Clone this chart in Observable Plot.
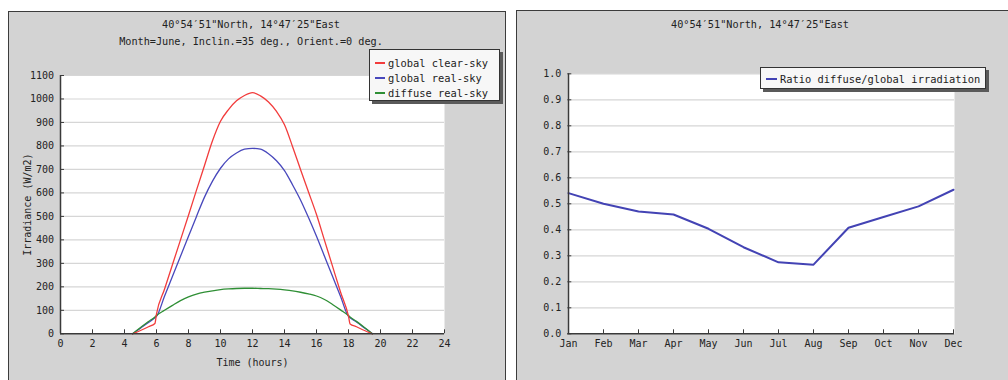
<!DOCTYPE html>
<html><head><meta charset="utf-8">
<script src="https://cdn.jsdelivr.net/npm/d3@7"></script>
<script src="https://cdn.jsdelivr.net/npm/@observablehq/plot@0.6"></script>
<style>
html,body{margin:0;padding:0;background:#fff;overflow:hidden;}
#page{position:relative;width:1008px;height:380px;overflow:hidden;font-family:"DejaVu Sans Mono",monospace;color:#222;}
.panel{position:absolute;background:#d3d3d3;border:1.5px solid #3c3c3c;box-sizing:border-box;}
.title{position:absolute;font-size:10.2px;white-space:nowrap;transform:translate(-50%,-50%);line-height:1;}
.chart{position:absolute;}
.legend{position:absolute;background:#f7f7f7;border:1px solid #333;box-shadow:3px 3px 0 #5a5a5a;box-sizing:border-box;font-size:10.4px;}
.row{position:absolute;left:0;height:14px;line-height:14px;white-space:nowrap;}
.sw{position:absolute;top:6px;height:2px;width:10px;}
.lt{position:absolute;}
</style></head>
<body><div id="page">
<div class="panel" style="left:8px;top:10.5px;width:498px;height:390px;"></div>
<div class="panel" style="left:515.5px;top:9.5px;width:510px;height:390px;"></div>
<div id="left" class="chart" style="left:10px;top:12px;"></div>
<div id="right" class="chart" style="left:518px;top:12px;"></div>
<div class="title" style="left:251px;top:25px;">40°54′51"North, 14°47′25"East</div>
<div class="title" style="left:251px;top:41.5px;">Month=June, Inclin.=35 deg., Orient.=0 deg.</div>
<div class="title" style="left:760px;top:24.5px;">40°54′51"North, 14°47′25"East</div>
<div id="legL" class="legend" style="left:369px;top:49px;width:131px;height:52px;"></div>
<div id="legR" class="legend" style="left:760px;top:66.5px;width:226px;height:22px;"></div>
</div>
<script>
// ---- left chart data (June daily profile) ----
const hours = [4.5, 5.0, 5.5, 5.9, 6.0, 6.5, 7.0, 7.5, 8.0, 8.5, 9.0, 9.5, 10.0, 10.5, 11.0, 11.5, 12.0,
               12.5, 13.0, 13.5, 14.0, 14.5, 15.0, 15.5, 16.0, 16.5, 17.0, 17.5, 18.0, 18.1, 18.5, 19.0, 19.5];
const globalClearSky = [0, 14, 30, 44, 85, 190, 295, 400, 505, 612, 717, 822, 905, 955, 992, 1015, 1027,
                        1013, 987, 947, 890, 798, 700, 604, 508, 398, 288, 178, 75, 42, 30, 14, 0];
const globalRealSky = [0, 24, 48, 68, 74, 160, 245, 330, 415, 500, 582, 650, 705, 745, 770, 786, 790,
                       786, 767, 737, 695, 635, 570, 495, 415, 330, 245, 160, 74, 68, 50, 25, 0];
const diffuseRealSky = [0, 27, 52, 72, 78, 100, 121, 141, 157, 169, 177, 183, 188, 191, 193, 194, 194,
                        193, 192, 190, 187, 183, 177, 170, 161, 146, 125, 102, 78, 72, 53, 27, 0];
const seriesNames = ["global clear-sky", "global real-sky", "diffuse real-sky"];
const seriesColors = ["#f23c3c", "#4848bc", "#2f8f35"];
const hourTicks = [0, 2, 4, 6, 8, 10, 12, 14, 16, 18, 20, 22, 24];
const irrTicks = [0, 100, 200, 300, 400, 500, 600, 700, 800, 900, 1000, 1100];

// ---- right chart data (monthly ratio) ----
const months = ["Jan","Feb","Mar","Apr","May","Jun","Jul","Aug","Sep","Oct","Nov","Dec"];
const ratio = [0.541, 0.500, 0.470, 0.459, 0.404, 0.333, 0.275, 0.266, 0.408, 0.449, 0.490, 0.554];
const ratioName = "Ratio diffuse/global irradiation";
const ratioColor = "#4343b4";
const ratioTicks = [0, 0.1, 0.2, 0.3, 0.4, 0.5, 0.6, 0.7, 0.8, 0.9, 1.0];

const font = {background: "transparent", fontFamily: "DejaVu Sans Mono, monospace", fontSize: "10px", color: "#222"};
const axisColor = "#3a3a3a";
const gridColor = "#d6d6d6";

const series = [globalClearSky, globalRealSky, diffuseRealSky];
const drawOrder = [1, 2, 0];
const lineMarks = drawOrder.map(k => Plot.line(hours.map((t, i) => ({t, v: series[k][i]})),
  {x: "t", y: "v", stroke: seriesColors[k], strokeWidth: 1.3, curve: "monotone-x"}));

const left = Plot.plot({
  width: 494, height: 366,
  marginLeft: 50, marginRight: 60, marginTop: 63, marginBottom: 44.7,
  style: font,
  x: {domain: [0, 24]},
  y: {domain: [0, 1100]},
  marks: [
    Plot.frame({fill: "white", stroke: "none"}),
    Plot.gridY(irrTicks, {stroke: gridColor, strokeOpacity: 1, strokeWidth: 1.2}),
    ...lineMarks,
    Plot.ruleX([0], {stroke: axisColor, strokeWidth: 1.5}),
    Plot.ruleY([0], {stroke: axisColor, strokeWidth: 1.5}),
    Plot.axisY(irrTicks, {tickSize: -4, fill: "none", stroke: axisColor, label: null}),
    Plot.axisX(hourTicks, {tickSize: -4, fill: "none", stroke: axisColor, label: null}),
    Plot.axisY(irrTicks, {tickSize: 0, tickPadding: 6.5, tickFormat: d => String(d), label: "Irradiance (W/m2)", labelAnchor: "center", labelOffset: 37, labelArrow: "none"}),
    Plot.axisX(hourTicks, {tickSize: 0, tickPadding: 6, tickFormat: d => String(d), label: "Time (hours)", labelAnchor: "center", labelOffset: 32, labelArrow: "none"})
  ]
});
document.getElementById("left").append(left);

const right = Plot.plot({
  width: 484, height: 366,
  marginLeft: 49.3, marginRight: 48, marginTop: 61.3, marginBottom: 44.7,
  style: font,
  x: {type: "point", domain: months, padding: 0},
  y: {domain: [0, 1]},
  marks: [
    Plot.frame({fill: "white", stroke: "none"}),
    Plot.gridY(ratioTicks, {stroke: gridColor, strokeOpacity: 1, strokeWidth: 1.2}),
    Plot.line(months.map((m, i) => ({m, r: ratio[i]})), {x: "m", y: "r", stroke: ratioColor, strokeWidth: 2}),
    Plot.ruleX([months[0]], {stroke: axisColor, strokeWidth: 1.5}),
    Plot.ruleY([0], {stroke: axisColor, strokeWidth: 1.5}),
    Plot.axisY(ratioTicks, {tickSize: -4, fill: "none", stroke: axisColor, label: null}),
    Plot.axisX(months, {tickSize: -4, fill: "none", stroke: axisColor, label: null}),
    Plot.axisY(ratioTicks, {tickSize: 0, tickPadding: 6.5, tickFormat: d3.format(".1f"), label: null}),
    Plot.axisX(months, {tickSize: 0, tickPadding: 6, label: null})
  ]
});
document.getElementById("right").append(right);

// legends
const legL = document.getElementById("legL");
seriesNames.forEach((name, i) => {
  const row = document.createElement("div");
  row.className = "row";
  row.style.top = (5.5 + i * 15.3) + "px";
  row.innerHTML = `<span class="sw" style="left:5px;background:${seriesColors[i]}"></span><span class="lt" style="left:18px">${name}</span>`;
  legL.append(row);
});
const legR = document.getElementById("legR");
const r = document.createElement("div");
r.className = "row";
r.style.top = "4px";
r.innerHTML = `<span class="sw" style="left:5px;width:11px;background:${ratioColor}"></span><span class="lt" style="left:19px">${ratioName}</span>`;
legR.append(r);
</script>
</body></html>
